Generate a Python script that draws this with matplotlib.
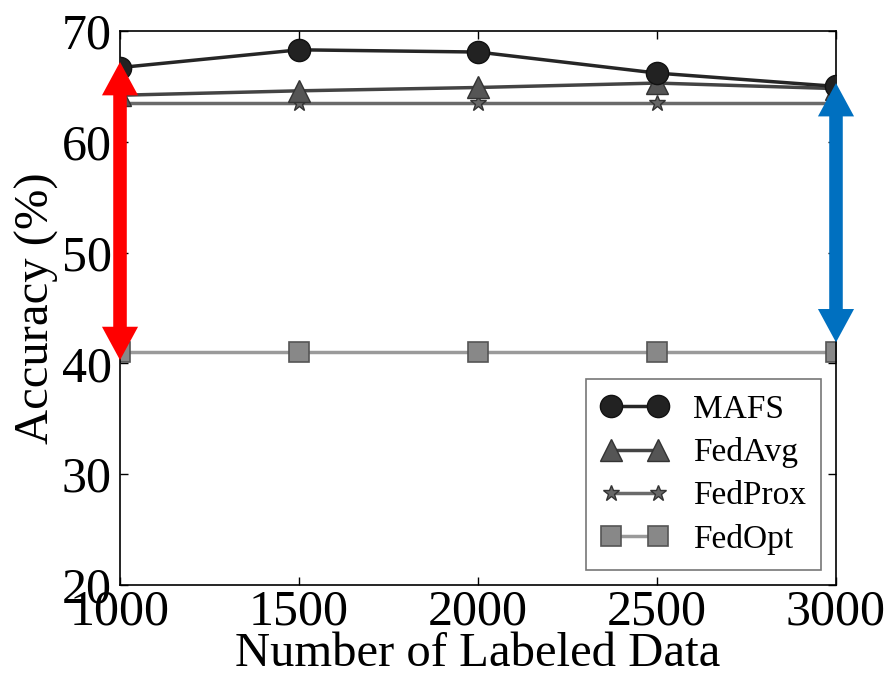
import matplotlib
matplotlib.use("Agg")
import matplotlib.pyplot as plt

plt.rcParams['font.family'] = ['Liberation Serif', 'DejaVu Serif']

labeled = [1000, 1500, 2000, 2500, 3000]
mafs = [66.7, 68.3, 68.1, 66.2, 65.0]
fedavg = [64.2, 64.6, 64.9, 65.3, 64.8]
fedprox = [63.5, 63.5, 63.5, 63.5, 63.5]
fedopt = [41.0, 41.0, 41.0, 41.0, 41.0]

# arrow spans (accuracy values, tip to tip)
red_span = (40.3, 67.2)
blue_span = (41.9, 65.3)

fig = plt.figure(figsize=(8.87, 6.75), dpi=100)
ax = fig.add_axes([0.1353, 0.1333, 0.8072, 0.8208])

ax.plot(labeled, fedopt, color='#9a9a9a', lw=2.5, marker='s', markersize=15,
        markerfacecolor='#888888', markeredgecolor='#555555', markeredgewidth=1.2, label='FedOpt', zorder=2)
ax.plot(labeled, fedprox, color='#6a6a6a', lw=2.5, marker='*', markersize=12,
        markerfacecolor='#666666', markeredgecolor='#333333', markeredgewidth=1.0, label='FedProx', zorder=3)
ax.plot(labeled, fedavg, color='#444444', lw=2.5, marker='^', markersize=16,
        markerfacecolor='#555555', markeredgecolor='#333333', markeredgewidth=1.0, label='FedAvg', zorder=4)
ax.plot(labeled, mafs, color='#262626', lw=2.5, marker='o', markersize=16,
        markerfacecolor='#222222', markeredgecolor='#111111', label='MAFS', zorder=5)

# double-headed arrows: each filled arrow's tail starts inside the other head
arrow_style = 'simple,head_length=24,head_width=26,tail_width=9.4'
inset = 2.0  # data units, less than the head length (~3 units)
for x, span, col in [(labeled[0], red_span, '#ff0000'), (labeled[-1], blue_span, '#0070c0')]:
    lo, hi = span
    for end, start in [(hi, lo + inset), (lo, hi - inset)]:
        ax.annotate('', xy=(x, end), xytext=(x, start),
                    arrowprops=dict(arrowstyle=arrow_style, mutation_scale=1,
                                    color=col, lw=0, shrinkA=0, shrinkB=0),
                    annotation_clip=False, zorder=6)

ax.set_xlim(1000, 3000)
ax.set_ylim(20, 70)
ax.set_xticks(labeled)
ax.set_yticks([20, 30, 40, 50, 60, 70])
ax.tick_params(direction='in', length=6, width=1, top=True, right=True,
               labelsize=36)
ax.tick_params(axis='y', pad=6)
ax.tick_params(axis='x', pad=3)
for s in ax.spines.values():
    s.set_linewidth(1.2)

ax.set_xlabel('Number of Labeled Data', fontsize=35, labelpad=-3)
ax.set_ylabel('Accuracy (%)', fontsize=35, labelpad=2)

handles, labels = ax.get_legend_handles_labels()
leg = ax.legend(handles[::-1], labels[::-1], loc='lower right', fontsize=24,
                fancybox=False, edgecolor='#555555', numpoints=2,
                handlelength=2.0, borderpad=0.45, labelspacing=0.38,
                handletextpad=0.75, borderaxespad=0.45)
leg.get_frame().set_linewidth(1.2)

fig.savefig('out.png', dpi=100)
